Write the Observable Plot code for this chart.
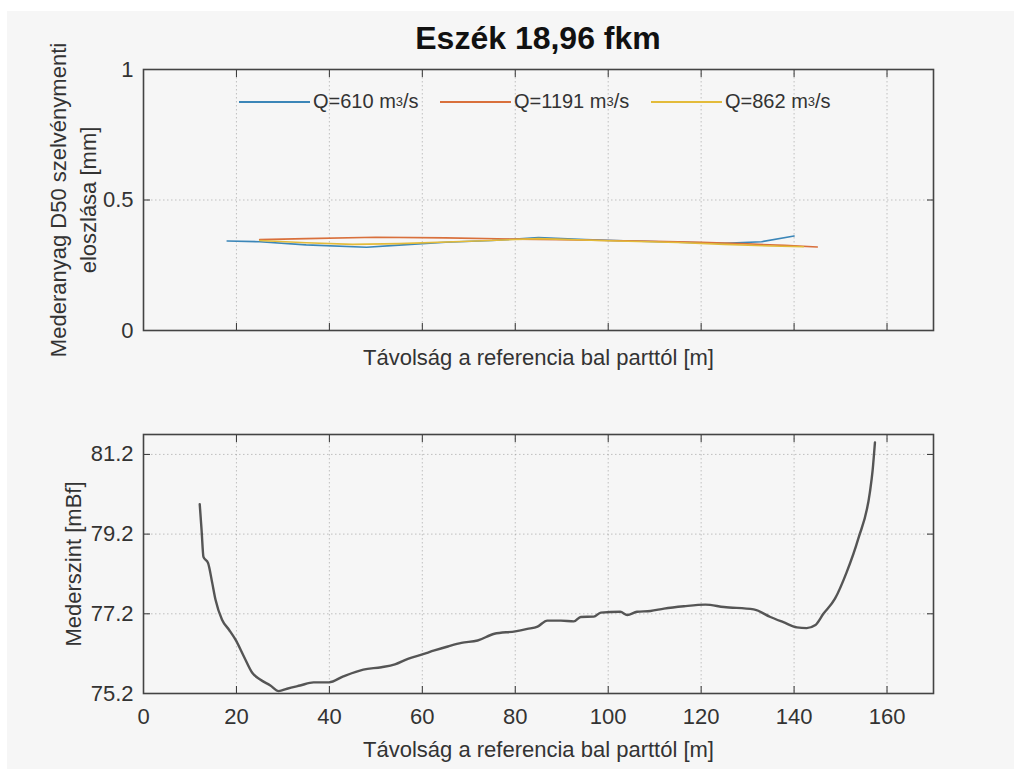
<!DOCTYPE html>
<html><head><meta charset="utf-8">
<script src="https://cdn.jsdelivr.net/npm/d3@7"></script>
<script src="https://cdn.jsdelivr.net/npm/@observablehq/plot@0.6"></script>
<style>
body{margin:0;background:#fff;width:1014px;height:769px;overflow:hidden;position:relative;font-family:"Liberation Sans",Arial,sans-serif;}
#bg{position:absolute;left:7px;top:11px;width:1007px;height:758px;background:#f6f6f6;}
#title{position:absolute;left:0;width:1076px;text-align:center;top:20px;font-size:32px;font-weight:bold;color:#111;}
.plot{position:absolute;left:0;}
.leg{position:absolute;font-size:20px;color:#333;white-space:nowrap;display:flex;align-items:center;}
.leg .sw{display:inline-block;width:71px;height:2px;margin-right:3px;}
.leg sup{font-size:13px;vertical-align:8px;}
</style></head>
<body>
<div id="bg"></div>
<div id="title">Eszék 18,96 fkm</div>
<div id="p1" class="plot" style="top:0"></div>
<div id="p2" class="plot" style="top:380px"></div>
<div id="legend"></div>
<script>
// ---- data ----
const titleText = "Eszék 18,96 fkm";
const xLabel = "Távolság a referencia bal parttól [m]";
const topYLabel = "Mederanyag D50 szelvénymenti\neloszlása [mm]";
const botYLabel = "Mederszint [mBf]";
const xTicks = [0, 20, 40, 60, 80, 100, 120, 140, 160];
const topYTicks = [0, 0.5, 1];
const botYTicks = [75.2, 77.2, 79.2, 81.2];

const seriesNames = ["Q=610", "Q=1191", "Q=862"];
const seriesColors = ["#3b86b8", "#d9703c", "#e3bb3a"];

const q610X = [18, 25, 35, 48, 55, 65, 75, 85, 95, 105, 115, 125, 133, 140];
const q610Y = [0.343, 0.340, 0.328, 0.319, 0.327, 0.338, 0.345, 0.356, 0.348, 0.343, 0.338, 0.334, 0.340, 0.362];
const q1191X = [25, 35, 50, 65, 80, 90, 100, 110, 120, 130, 138, 145];
const q1191Y = [0.348, 0.352, 0.357, 0.355, 0.350, 0.348, 0.345, 0.342, 0.338, 0.332, 0.326, 0.320];
const q862X = [25, 35, 45, 55, 70, 85, 100, 115, 125, 135, 142];
const q862Y = [0.345, 0.336, 0.330, 0.333, 0.342, 0.352, 0.344, 0.337, 0.330, 0.324, 0.321];

const bedX = [12.1, 12.5, 12.9, 13.9, 14.8, 15.5, 16.9, 18.4, 19.8, 21.6, 23.4, 25.1, 27.3, 29.1, 30.9, 33.7, 36.6, 39.9, 43, 47.3, 51.2, 54.1, 56.9, 60, 62.6, 65.5, 68.4, 71.9, 75.5, 80, 82.6, 84.8, 86.9, 89.8, 92.6, 94.1, 96.9, 98.4, 102.6, 104.1, 106.2, 109.1, 112, 116.3, 120.9, 124.9, 131.3, 134.9, 137.7, 140.6, 142.7, 144.5, 146.3, 148.8, 151.3, 153.8, 156.3, 156.9, 157.4];
const bedY = [79.95, 79.3, 78.63, 78.47, 77.97, 77.55, 77.05, 76.8, 76.55, 76.13, 75.72, 75.55, 75.4, 75.26, 75.32, 75.4, 75.48, 75.48, 75.63, 75.8, 75.86, 75.93, 76.07, 76.18, 76.28, 76.38, 76.47, 76.53, 76.7, 76.76, 76.82, 76.88, 77.03, 77.03, 77.01, 77.12, 77.13, 77.23, 77.25, 77.17, 77.25, 77.27, 77.33, 77.39, 77.43, 77.37, 77.31, 77.12, 76.99, 76.86, 76.84, 76.91, 77.2, 77.58, 78.24, 79.08, 80.24, 80.8, 81.5];

// ---- build ----
const zip = (xs, ys) => xs.map((x, i) => ({x, y: ys[i]}));
const series = [zip(q610X, q610Y), zip(q1191X, q1191Y), zip(q862X, q862Y)];
const bed = zip(bedX, bedY);

const style = {fontFamily: "'Liberation Sans', Arial, sans-serif", fontSize: "22px", color: "#333", background: "transparent", overflow: "visible"};
const grid = {stroke: "#8c8c8c", strokeOpacity: 0.5, strokeDasharray: "1.5,2.5", strokeWidth: 1};
const frameStyle = {stroke: "#444", strokeWidth: 1.6};
const blank = () => "";

const p1 = Plot.plot({
  width: 1014, height: 380,
  marginTop: 69, marginBottom: 50, marginLeft: 143, marginRight: 81,
  x: {domain: [0, 170]}, y: {domain: [0, 1]},
  style,
  marks: [
    Plot.gridX(xTicks, grid),
    Plot.gridY(topYTicks, grid),
    ...series.map((d, i) => Plot.line(d, {x: "x", y: "y", stroke: seriesColors[i], strokeWidth: 1.6})),
    Plot.axisX(xTicks, {anchor: "bottom", tickSize: -7, tickFormat: blank, label: null}),
    Plot.axisX(xTicks, {anchor: "top", tickSize: -7, tickFormat: blank, label: null}),
    Plot.axisY(topYTicks, {anchor: "left", tickSize: -7, tickPadding: 17, tickFormat: d => String(d), label: null}),
    Plot.axisY(topYTicks, {anchor: "right", tickSize: -7, tickFormat: blank, label: null}),
    Plot.frame(frameStyle),
    Plot.text([xLabel], {frameAnchor: "bottom", dy: 27, text: d => d, fontSize: 22, fill: "#333", textAnchor: "middle", lineAnchor: "middle"}),
    Plot.text([topYLabel], {frameAnchor: "left", dx: -72, text: d => d, rotate: -90, fontSize: 22, fill: "#333", textAnchor: "middle", lineAnchor: "middle", lineHeight: 1.35})
  ]
});
document.getElementById("p1").appendChild(p1);

const p2 = Plot.plot({
  width: 1014, height: 389,
  marginTop: 54, marginBottom: 76, marginLeft: 143, marginRight: 81,
  x: {domain: [0, 170]}, y: {domain: [75.2, 81.7]},
  style,
  marks: [
    Plot.gridX(xTicks, grid),
    Plot.gridY(botYTicks, grid),
    Plot.line(bed, {x: "x", y: "y", stroke: "#555", strokeWidth: 2.4, curve: "monotone-x"}),
    Plot.axisX(xTicks, {anchor: "bottom", tickSize: -7, tickPadding: 22, tickFormat: d => String(d), label: null}),
    Plot.axisX(xTicks, {anchor: "top", tickSize: -7, tickFormat: blank, label: null}),
    Plot.axisY(botYTicks, {anchor: "left", tickSize: -7, tickPadding: 17, tickFormat: d3.format(".1f"), label: null}),
    Plot.axisY(botYTicks, {anchor: "right", tickSize: -7, tickFormat: blank, label: null}),
    Plot.frame(frameStyle),
    Plot.text([xLabel], {frameAnchor: "bottom", dy: 56, text: d => d, fontSize: 22, fill: "#333", textAnchor: "middle", lineAnchor: "middle"}),
    Plot.text([botYLabel], {frameAnchor: "left", dx: -70, text: d => d, rotate: -90, fontSize: 22, fill: "#333", textAnchor: "middle", lineAnchor: "middle"})
  ]
});
document.getElementById("p2").appendChild(p2);

// legend (HTML, inside top axes)
const legendLefts = [239, 440, 651];
const legend = document.getElementById("legend");
seriesNames.forEach((name, i) => {
  const el = document.createElement("div");
  el.className = "leg";
  el.style.left = legendLefts[i] + "px";
  el.style.top = "90px";
  el.innerHTML = `<span class="sw" style="background:${seriesColors[i]}"></span>${name} m<sup>3</sup>/s`;
  legend.appendChild(el);
});
</script>
</body></html>
